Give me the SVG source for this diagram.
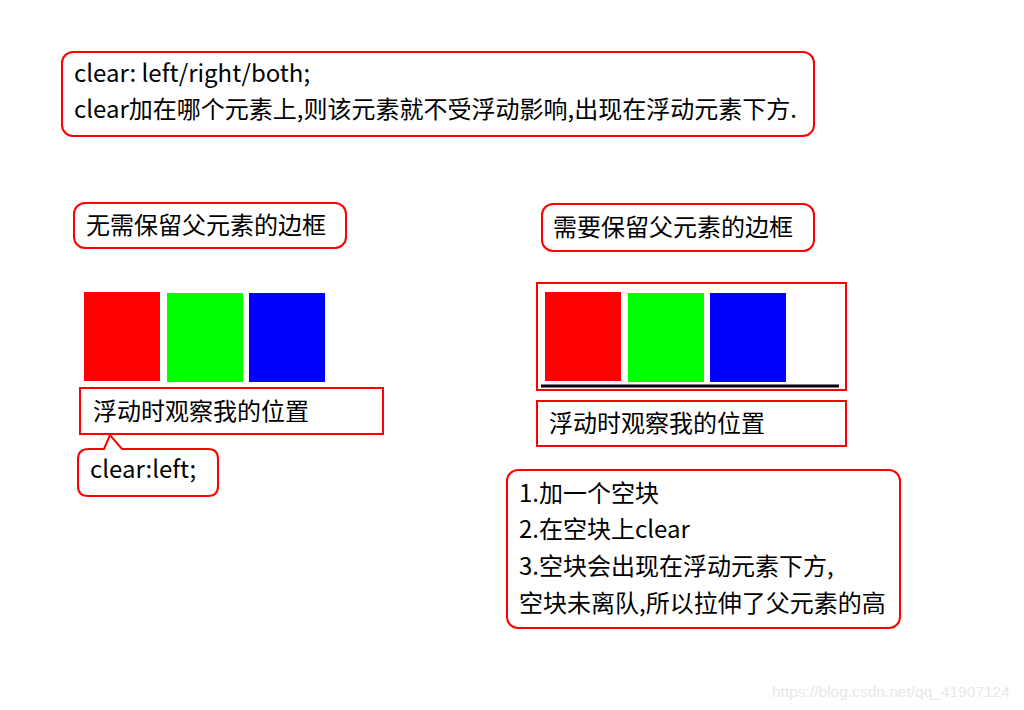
<svg xmlns="http://www.w3.org/2000/svg" width="1024" height="710" viewBox="0 0 1024 710">
<style>
.box{fill:#fff;stroke:#f00;stroke-width:2}
.t{font-family:"Noto Sans CJK SC","Microsoft YaHei",sans-serif;font-size:24px;fill:#000}
.wm{font-family:"Liberation Sans",Arial,sans-serif;font-size:15.5px;fill:#e8e8e8}
</style>
<rect width="1024" height="710" fill="#fff"/>
<g id="note-clear">
<rect class="box" x="62" y="52" width="752" height="84" rx="11"/>
<text class="t" x="74" y="82">clear: left/right/both;</text>
<text class="t" x="74" y="118">clear加在哪个元素上,则该元素就不受浮动影响,出现在浮动元素下方.</text>
</g>
<g id="label-left">
<rect class="box" x="74" y="203" width="272" height="45" rx="11"/>
<text class="t" x="86" y="234">无需保留父元素的边框</text>
</g>
<g id="floats-left">
<rect x="84" y="292" width="76" height="89" fill="#f00"/>
<rect x="167" y="293" width="76" height="89" fill="#0f0"/>
<rect x="249" y="293" width="76" height="89" fill="#00f"/>
</g>
<g id="observe-left">
<rect class="box" x="80" y="388" width="303" height="46"/>
<text class="t" x="93" y="420">浮动时观察我的位置</text>
</g>
<g id="callout-clear-left">
<path class="box" d="M89,449 H104 L110,435 L122,449 H208 Q218,449 218,459 V486 Q218,496 208,496 H88 Q78,496 78,486 V459 Q78,449 89,449 Z"/>
<text class="t" x="90" y="478">clear:left;</text>
</g>
<g id="label-right">
<rect class="box" x="542" y="204" width="272" height="47" rx="11"/>
<text class="t" x="553" y="236">需要保留父元素的边框</text>
</g>
<g id="parent-right">
<rect class="box" x="537" y="283" width="309" height="107"/>
<rect x="545" y="292" width="76" height="89" fill="#f00"/>
<rect x="628" y="293" width="76" height="89" fill="#0f0"/>
<rect x="710" y="293" width="76" height="89" fill="#00f"/>
<rect x="541" y="384.5" width="298" height="3" fill="#000"/>
</g>
<g id="observe-right">
<rect class="box" x="537" y="401" width="309" height="45"/>
<text class="t" x="549" y="432">浮动时观察我的位置</text>
</g>
<g id="note-steps">
<rect class="box" x="507" y="470" width="393" height="158" rx="11"/>
<text class="t" x="519" y="502">1.加一个空块</text>
<text class="t" x="519" y="538">2.在空块上clear</text>
<text class="t" x="519" y="575">3.空块会出现在浮动元素下方,</text>
<text class="t" x="519" y="612">空块未离队,所以拉伸了父元素的高</text>
</g>
<g id="connectors"></g>
<text class="wm" x="772" y="697">https://blog.csdn.net/qq_41907124</text>
</svg>
